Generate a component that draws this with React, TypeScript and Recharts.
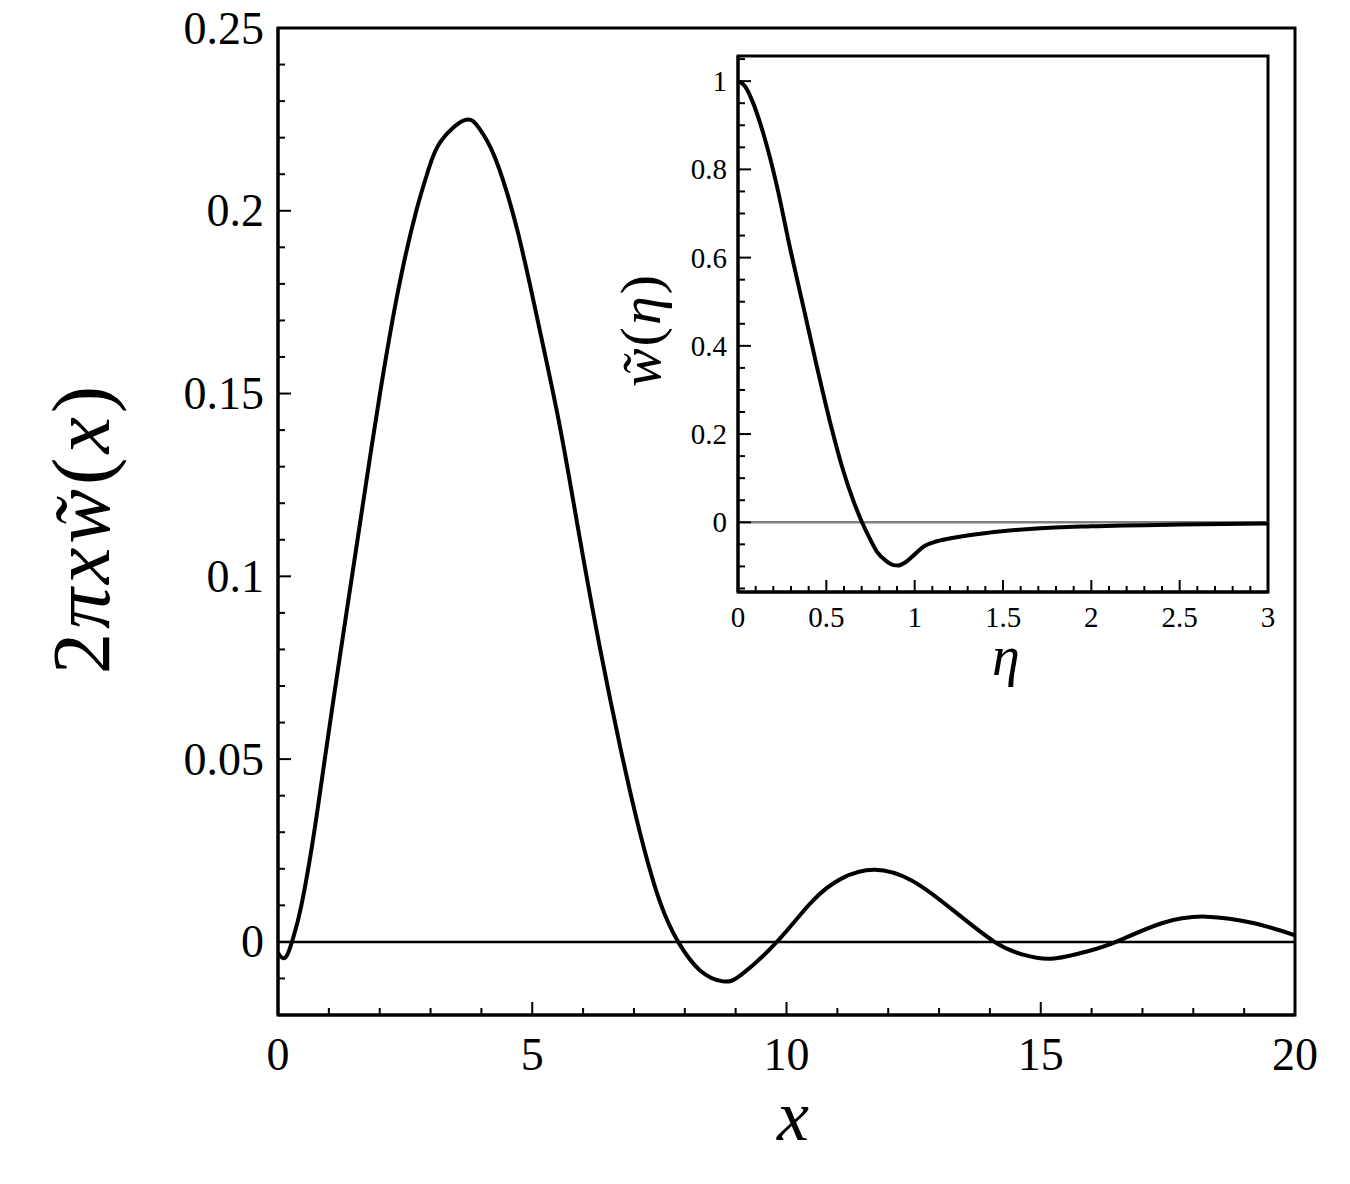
import React from 'react';
import { LineChart, Line, XAxis, YAxis, ReferenceLine, ReferenceArea } from 'recharts';

// ---- Main curve: 2*pi*x*w~(x) ----
const mainX = [0, 0.1, 0.2, 0.3, 0.46, 0.7, 0.92, 1.2, 1.455, 1.73, 2.0, 2.36, 2.72, 2.96, 3.2, 3.67, 3.95, 4.26, 4.71, 5.15, 5.55, 5.94, 6.33, 6.73, 7.12, 7.51, 7.87, 8.3, 8.75, 9.12, 9.81, 10.5, 11.08, 11.74, 12.46, 13.19, 14.09, 14.63, 15.2, 15.94, 16.48, 17.38, 18.26, 19.2, 20];
const mainY = [-0.003, -0.0045, -0.003, 0.0012, 0.01, 0.029, 0.05, 0.0765, 0.1, 0.1253, 0.1495, 0.178, 0.2, 0.2113, 0.219, 0.2248, 0.2227, 0.2148, 0.1945, 0.1672, 0.1405, 0.11, 0.0805, 0.0533, 0.0298, 0.011, 0, -0.0078, -0.0108, -0.0089, 0, 0.011, 0.0173, 0.0197, 0.0168, 0.0096, 0, -0.0034, -0.0046, -0.0025, 0, 0.0051, 0.0069, 0.0051, 0.0018];

// ---- Inset curve: w~(eta) ----
const insetEta = [0, 0.04, 0.079, 0.145, 0.221, 0.296, 0.372, 0.447, 0.523, 0.598, 0.65, 0.702, 0.75, 0.787, 0.84, 0.88, 0.905, 0.95, 0.994, 1.05, 1.126, 1.22, 1.41, 1.69, 2.0, 2.5, 3.0];
const insetW = [1.0, 0.988, 0.957, 0.879, 0.761, 0.619, 0.485, 0.352, 0.224, 0.114, 0.052, 0, -0.04, -0.067, -0.088, -0.097, -0.098, -0.09, -0.075, -0.055, -0.043, -0.035, -0.024, -0.014, -0.009, -0.005, -0.003];

// ---- Ticks ----
const mainXTicks = [0, 1, 2, 3, 4, 5, 6, 7, 8, 9, 10, 11, 12, 13, 14, 15, 16, 17, 18, 19, 20];
const mainXMajor = [0, 5, 10, 15, 20];
const mainXLabels = ['0', '5', '10', '15', '20'];
const mainYTicks = [-0.02, -0.01, 0, 0.01, 0.02, 0.03, 0.04, 0.05, 0.06, 0.07, 0.08, 0.09, 0.1, 0.11, 0.12, 0.13, 0.14, 0.15, 0.16, 0.17, 0.18, 0.19, 0.2, 0.21, 0.22, 0.23, 0.24, 0.25];
const mainYMajor = [0, 0.05, 0.1, 0.15, 0.2, 0.25];
const mainYLabels = ['0', '0.05', '0.1', '0.15', '0.2', '0.25'];

const insetXTicks = [0, 0.1, 0.2, 0.3, 0.4, 0.5, 0.6, 0.7, 0.8, 0.9, 1, 1.1, 1.2, 1.3, 1.4, 1.5, 1.6, 1.7, 1.8, 1.9, 2, 2.1, 2.2, 2.3, 2.4, 2.5, 2.6, 2.7, 2.8, 2.9, 3];
const insetXMajor = [0, 0.5, 1, 1.5, 2, 2.5, 3];
const insetXLabels = ['0', '0.5', '1', '1.5', '2', '2.5', '3'];
const insetYTicks = [-0.15, -0.1, -0.05, 0, 0.05, 0.1, 0.15, 0.2, 0.25, 0.3, 0.35, 0.4, 0.45, 0.5, 0.55, 0.6, 0.65, 0.7, 0.75, 0.8, 0.85, 0.9, 0.95, 1, 1.05];
const insetYMajor = [0, 0.2, 0.4, 0.6, 0.8, 1];
const insetYLabels = ['0', '0.2', '0.4', '0.6', '0.8', '1'];

const mainData = mainX.map((x, i) => ({ x, y: mainY[i] }));
const insetData = insetEta.map((x, i) => ({ x, y: insetW[i] }));

const FONT = '"Liberation Serif", "Times New Roman", serif';

type TickOpts = {
  orient: 'left' | 'bottom';
  majors: number[];
  labels: string[];
  majorLen: number;
  minorLen: number;
  fontSize: number;
  gap: number;
  sw: number;
};

function makeTick(o: TickOpts) {
  return (props: any) => {
    const { x, y, payload } = props;
    const v = payload.value;
    const idx = o.majors.findIndex((m) => Math.abs(m - v) < 1e-9);
    const isMajor = idx >= 0;
    const len = isMajor ? o.majorLen : o.minorLen;
    if (o.orient === 'left') {
      return (
        <g>
          <line x1={x} y1={y} x2={x + len} y2={y} stroke="#000" strokeWidth={o.sw} />
          {isMajor && (
            <text x={x - o.gap} y={y} textAnchor="end" dominantBaseline="central" fontFamily={FONT} fontSize={o.fontSize} fill="#000">
              {o.labels[idx]}
            </text>
          )}
        </g>
      );
    }
    return (
      <g>
        <line x1={x} y1={y} x2={x} y2={y - len} stroke="#000" strokeWidth={o.sw} />
        {isMajor && (
          <text x={x} y={y + o.gap} textAnchor="middle" fontFamily={FONT} fontSize={o.fontSize} fill="#000">
            {o.labels[idx]}
          </text>
        )}
      </g>
    );
  };
}

const mainYTick = makeTick({ orient: 'left', majors: mainYMajor, labels: mainYLabels, majorLen: 13, minorLen: 7, fontSize: 46, gap: 14, sw: 2 });
const mainXTick = makeTick({ orient: 'bottom', majors: mainXMajor, labels: mainXLabels, majorLen: 13, minorLen: 7, fontSize: 46, gap: 55, sw: 2 });
const insetYTick = makeTick({ orient: 'left', majors: insetYMajor, labels: insetYLabels, majorLen: 13, minorLen: 7, fontSize: 29, gap: 11, sw: 2 });
const insetXTick = makeTick({ orient: 'bottom', majors: insetXMajor, labels: insetXLabels, majorLen: 12, minorLen: 6, fontSize: 29, gap: 35, sw: 2 });

export default function App() {
  return (
    <div style={{ position: 'absolute', left: 0, top: 0, width: 1350, height: 1184, background: '#fff' }}>
      <div style={{ position: 'absolute', left: 0, top: 0 }}>
        <LineChart width={1350} height={1184} data={mainData} margin={{ top: 28, right: 55, bottom: 168, left: 277 }}>
          <XAxis
            type="number"
            dataKey="x"
            domain={[0, 20]}
            ticks={mainXTicks}
            interval={0}
            height={1}
            tickSize={0}
            tickMargin={0}
            tickLine={false}
            tick={mainXTick}
            axisLine={{ stroke: '#000', strokeWidth: 3 }}
            allowDataOverflow
          />
          <YAxis
            type="number"
            domain={[-0.02, 0.25]}
            ticks={mainYTicks}
            interval={0}
            width={1}
            tickSize={0}
            tickMargin={0}
            tickLine={false}
            tick={mainYTick}
            axisLine={{ stroke: '#000', strokeWidth: 3 }}
            allowDataOverflow
          />
          <ReferenceLine y={0} stroke="#000" strokeWidth={2.5} />
          <ReferenceArea x1={0} x2={20} y1={-0.02} y2={0.25} fill="none" stroke="#000" strokeWidth={3} strokeOpacity={1} />
          <Line type="natural" dataKey="y" stroke="#000" strokeWidth={4} dot={false} isAnimationActive={false} />
        </LineChart>
      </div>
      <div style={{ position: 'absolute', left: 0, top: 0 }}>
        <LineChart width={1350} height={700} data={insetData} margin={{ top: 56, right: 82, bottom: 107, left: 737 }}>
          <XAxis
            type="number"
            dataKey="x"
            domain={[0, 3]}
            ticks={insetXTicks}
            interval={0}
            height={1}
            tickSize={0}
            tickMargin={0}
            tickLine={false}
            tick={insetXTick}
            axisLine={{ stroke: '#000', strokeWidth: 3 }}
            allowDataOverflow
          />
          <YAxis
            type="number"
            domain={[-0.158, 1.057]}
            ticks={insetYTicks}
            interval={0}
            width={1}
            tickSize={0}
            tickMargin={0}
            tickLine={false}
            tick={insetYTick}
            axisLine={{ stroke: '#000', strokeWidth: 3 }}
            allowDataOverflow
          />
          <ReferenceLine y={0} stroke="#808080" strokeWidth={2.5} />
          <ReferenceArea x1={0} x2={3} y1={-0.158} y2={1.057} fill="none" stroke="#000" strokeWidth={3} strokeOpacity={1} />
          <Line type="monotone" dataKey="y" stroke="#000" strokeWidth={4} dot={false} isAnimationActive={false} />
        </LineChart>
      </div>
      <svg width={1350} height={1184} style={{ position: 'absolute', left: 0, top: 0, pointerEvents: 'none' }}>
        <text x={793} y={1140} textAnchor="middle" fontFamily={FONT} fontStyle="italic" fontSize={72} fill="#000">x</text>
        <text x={109} y={528} textAnchor="middle" fontFamily={FONT} fontSize={82} letterSpacing={4} fill="#000" transform="rotate(-90, 109, 528)">
          <tspan>2</tspan>
          <tspan fontStyle="italic">{'\u03C0x'}</tspan>
          <tspan fontStyle="italic">{'w\u0303'}</tspan>
          <tspan>(</tspan>
          <tspan fontStyle="italic">x</tspan>
          <tspan>)</tspan>
        </text>
        <text x={660} y={330} textAnchor="middle" fontFamily={FONT} fontSize={58} letterSpacing={2} fill="#000" transform="rotate(-90, 660, 330)">
          <tspan fontStyle="italic">{'w\u0303'}</tspan>
          <tspan>(</tspan>
          <tspan fontStyle="italic">{'\u03B7'}</tspan>
          <tspan>)</tspan>
        </text>
        <text x={1006} y={675} textAnchor="middle" fontFamily={FONT} fontStyle="italic" fontSize={56} fill="#000">{'\u03B7'}</text>
      </svg>
    </div>
  );
}
